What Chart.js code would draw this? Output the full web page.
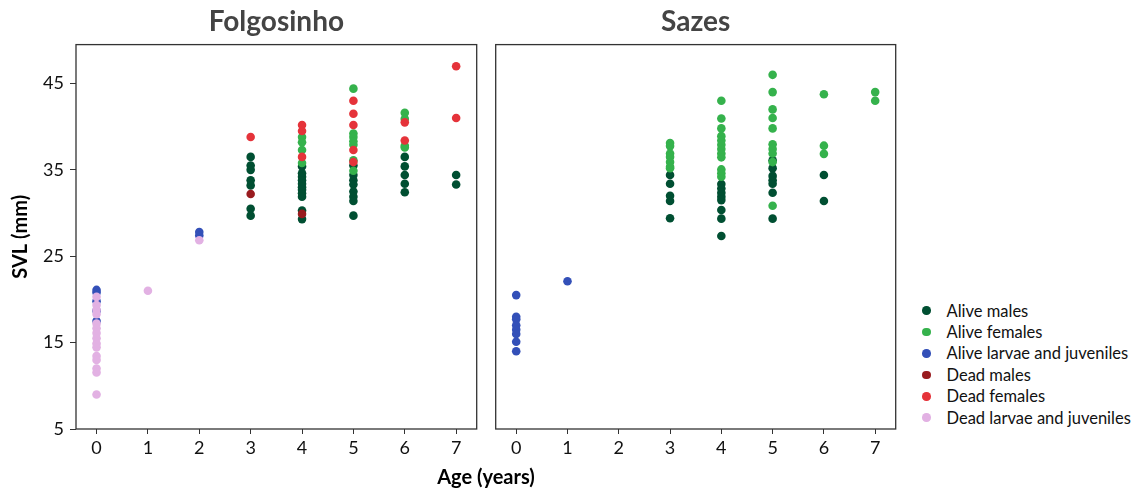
<!DOCTYPE html>
<html>
<head>
<meta charset="utf-8">
<script src="https://cdn.jsdelivr.net/npm/chart.js@4.4.1/dist/chart.umd.min.js"></script>
<style>
  body { margin: 0; width: 1135px; height: 490px; background: #fff; position: relative; overflow: hidden; font-family: Lato, sans-serif; }
  #left { position: absolute; left: 0; top: 0; }
  #right { position: absolute; left: 480px; top: 0; }
  #xtitle { position: absolute; left: 386px; width: 200px; top: 464px; line-height: 24px; text-align: center; font-weight: bold; font-size: 20px; color: #000; }
  #legend { position: absolute; left: 922px; top: 300px; margin: 0; padding: 0; list-style: none; }
  #legend li { height: 21.4px; display: flex; align-items: center; font-size: 16.5px; color: #111; }
  #legend span.dot { width: 8.5px; height: 8.5px; border-radius: 50%; margin-right: 16px; }
</style>
</head>
<body>
<canvas id="left" width="490" height="490"></canvas>
<canvas id="right" width="420" height="490"></canvas>
<div id="xtitle">Age (years)</div>
<ul id="legend"></ul>
<script>
const seriesNames = ['Alive males', 'Alive females', 'Alive larvae and juveniles', 'Dead males', 'Dead females', 'Dead larvae and juveniles'];
const seriesColors = ['#004f32', '#35b24c', '#3350b8', '#991b1f', '#e5333a', '#e2b1e3'];
const xTicks = [0, 1, 2, 3, 4, 5, 6, 7];
const yTicks = [5, 15, 25, 35, 45];

// Folgosinho, [age, SVL]
const folAliveMales = [
  [3, 36.5], [3, 35.5], [3, 35.0], [3, 33.8], [3, 33.2], [3, 30.5], [3, 29.7],
  [4, 35.4], [4, 34.6], [4, 34.2], [4, 33.8], [4, 33.4], [4, 33.0], [4, 32.7], [4, 32.3], [4, 31.9], [4, 30.3], [4, 29.3],
  [5, 35.5], [5, 34.4], [5, 33.8], [5, 33.3], [5, 32.5], [5, 31.9], [5, 31.4], [5, 29.7],
  [6, 36.5], [6, 35.4], [6, 34.4], [6, 33.4], [6, 32.4],
  [7, 34.4], [7, 33.3]
];
const folAliveFemales = [
  [4, 38.8], [4, 38.2], [4, 37.3], [4, 35.8],
  [5, 44.4], [5, 39.2], [5, 38.8], [5, 38.3], [5, 37.9], [5, 36.1], [5, 34.9],
  [6, 41.6], [6, 40.9], [6, 37.8], [6, 37.6]
];
const folAliveJuv = [
  [0, 21.1], [0, 20.8], [0, 19.8], [0, 18.7], [0, 17.5],
  [2, 27.8], [2, 27.4]
];
const folDeadMales = [[3, 32.2], [4, 29.9]];
const folDeadFemales = [
  [3, 38.8],
  [4, 40.2], [4, 39.5], [4, 36.5],
  [5, 43.0], [5, 41.5], [5, 40.2], [5, 37.3], [5, 35.9],
  [6, 40.5], [6, 38.4],
  [7, 47.0], [7, 41.0]
];
const folDeadJuv = [
  [0, 20.3], [0, 19.35], [0, 18.8], [0, 18.3], [0, 17.2], [0, 16.65], [0, 16.1], [0, 15.5],
  [0, 14.9], [0, 14.45], [0, 13.45], [0, 13.0], [0, 12.0], [0, 11.55], [0, 9.0],
  [1, 21.0],
  [2, 26.85]
];

// Sazes
const sazAliveMales = [
  [3, 34.4], [3, 33.4], [3, 32.0], [3, 31.4], [3, 29.4],
  [4, 33.35], [4, 32.85], [4, 32.35], [4, 31.9], [4, 31.5], [4, 30.35], [4, 29.35], [4, 27.35],
  [5, 36.1], [5, 35.2], [5, 34.3], [5, 33.8], [5, 33.4], [5, 32.35], [5, 29.35],
  [6, 34.4], [6, 31.4]
];
const sazAliveFemales = [
  [3, 38.1], [3, 37.75], [3, 36.9], [3, 36.5], [3, 35.9], [3, 35.35], [3, 35.2],
  [4, 43.0], [4, 40.95], [4, 39.8], [4, 38.9], [4, 38.4], [4, 37.9], [4, 37.4], [4, 36.9], [4, 36.45], [4, 35.05], [4, 34.6], [4, 34.2],
  [5, 46.0], [5, 44.0], [5, 42.0], [5, 41.0], [5, 39.8], [5, 37.95], [5, 37.4], [5, 36.9], [5, 35.9], [5, 30.85],
  [6, 43.75], [6, 37.8], [6, 36.85],
  [7, 44.0], [7, 43.0]
];
const sazAliveJuv = [
  [0, 20.5], [0, 18.0], [0, 17.7], [0, 17.0], [0, 16.5], [0, 16.0], [0, 15.1], [0, 14.0],
  [1, 22.1]
];
const sazDeadMales = [];
const sazDeadFemales = [];
const sazDeadJuv = [];

const FONT = 'Lato';

function makeDatasets(groups) {
    return groups.map((pts, i) => ({
        label: seriesNames[i],
        data: pts.map(p => ({ x: p[0], y: p[1] })),
        backgroundColor: seriesColors[i],
        borderWidth: 0,
        pointRadius: 4.3,
        pointHoverRadius: 4.3,
        order: 6 - i
    }));
}

const frame = {
    id: 'frame',
    beforeDatasetsDraw(chart) {
        const ctx = chart.ctx;
        const a = chart.chartArea;
        ctx.save();
        ctx.strokeStyle = '#333';
        ctx.lineWidth = 1.3;
        ctx.strokeRect(a.left, a.top, a.right - a.left, a.bottom - a.top);
        ctx.restore();
    }
};

function makeOptions(title, showY, pad) {
    return {
        responsive: false,
        animation: false,
        layout: { padding: pad },
        plugins: {
            legend: { display: false },
            tooltip: { enabled: false },
            title: {
                display: true,
                text: title,
                fullSize: false,
                color: '#444',
                font: { family: FONT, size: 28, weight: 'bold' },
                padding: { top: 5, bottom: 6 }
            }
        },
        scales: {
            x: {
                type: 'linear',
                min: -0.4,
                max: 7.4,
                afterBuildTicks: s => { s.ticks = xTicks.map(v => ({ value: v })); },
                afterFit: s => { s.height = 61; },
                ticks: { color: '#111', font: { family: FONT, size: 18 }, padding: 3 },
                grid: { drawOnChartArea: false, tickLength: 5, color: '#333' },
                border: { display: false }
            },
            y: {
                display: showY,
                min: 5,
                max: 49.5,
                afterBuildTicks: s => { s.ticks = yTicks.map(v => ({ value: v })); },
                afterFit: s => { s.width = showY ? 76 : 0; },
                ticks: { color: '#111', font: { family: FONT, size: 18 }, padding: 6 },
                grid: { drawOnChartArea: false, tickLength: 6, color: '#333' },
                border: { display: false },
                title: {
                    display: true,
                    text: 'SVL (mm)',
                    color: '#000',
                    font: { family: FONT, size: 20, weight: 'bold' },
                    padding: { top: 9, bottom: 0 }
                }
            }
        }
    };
}

new Chart(document.getElementById('left'), {
    type: 'scatter',
    data: { datasets: makeDatasets([folAliveMales, folAliveFemales, folAliveJuv, folDeadMales, folDeadFemales, folDeadJuv]) },
    options: makeOptions('Folgosinho', true, { top: 0, right: 13.3, bottom: 0, left: 0 }),
    plugins: [frame]
});

new Chart(document.getElementById('right'), {
    type: 'scatter',
    data: { datasets: makeDatasets([sazAliveMales, sazAliveFemales, sazAliveJuv, sazDeadMales, sazDeadFemales, sazDeadJuv]) },
    options: makeOptions('Sazes', false, { top: 0, right: 4.3, bottom: 0, left: 15.7 }),
    plugins: [frame]
});

const legend = document.getElementById('legend');
seriesNames.forEach((name, i) => {
    const li = document.createElement('li');
    const dot = document.createElement('span');
    dot.className = 'dot';
    dot.style.background = seriesColors[i];
    li.appendChild(dot);
    li.appendChild(document.createTextNode(name));
    legend.appendChild(li);
});
</script>
</body>
</html>
